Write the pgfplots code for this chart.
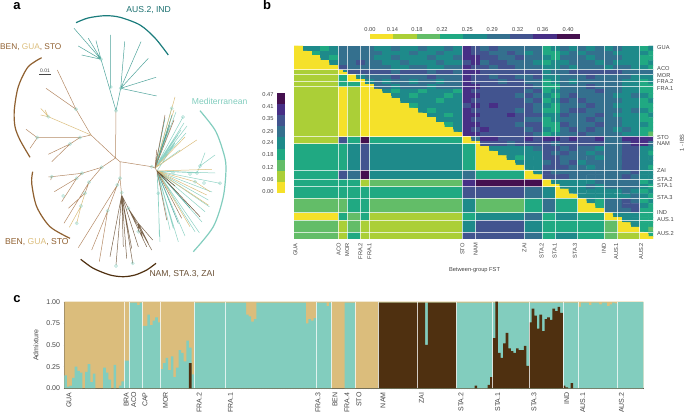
\documentclass[border=0pt]{standalone}
\usepackage{pgfplots}
\pgfplotsset{compat=1.18}
\usepackage{fontspec}
\setmainfont{Liberation Sans}
\definecolor{L0}{HTML}{F5E12A}
\definecolor{L1}{HTML}{ABCF37}
\definecolor{L2}{HTML}{63BD68}
\definecolor{L3}{HTML}{20A982}
\definecolor{L4}{HTML}{1E8A8A}
\definecolor{L5}{HTML}{34708E}
\definecolor{L6}{HTML}{42548F}
\definecolor{L7}{HTML}{472F86}
\definecolor{L8}{HTML}{45104F}
\definecolor{tanc}{HTML}{DBBD7C}
\definecolor{mintc}{HTML}{82CDBE}
\definecolor{darkc}{HTML}{4F3010}
\definecolor{brc}{HTML}{B48A66}
\definecolor{tealc}{HTML}{4FA39B}
\definecolor{txt}{HTML}{444444}
\newcommand\fsb{\fontsize{5.7}{6}\selectfont}
\newcommand\fsc{\fontsize{7}{7}\selectfont}
\newcommand\fst{\fontsize{8.6}{10}\selectfont}
% one block of the lower triangle: x0 x1 y0 y1 colour
\newcommand\blk[5]{\addplot[fill=#5,draw=none] coordinates {(#1,#3)(#2,#3)(#2,#4)(#1,#4)};}
\pgfplotsset{
  every tick label/.append style={text=txt},
  /pgf/number format/assume math mode=true,
  colormap={fst}{color=(L0) color=(L1) color=(L2) color=(L3) color=(L4) color=(L5) color=(L6) color=(L7) color=(L8)},
}
\begin{document}
\begin{tikzpicture}
\useasboundingbox (0pt,0pt) rectangle (685pt,414pt);

% panel a, in picture pixels
\begin{axis}[at={(0pt,0pt)},anchor=south west,scale only axis,width=685pt,height=414pt,
  xmin=0,xmax=685,ymin=0,ymax=414,y dir=reverse,hide axis,clip=false,unbounded coords=jump,
  line join=round]
% arcs
\addplot[smooth,color=L4!90!black,line width=1.2pt] coordinates {(76,22.7)(88,18)(105,15.7)(120,17.3)(140,25)(155,38)(168.3,55)};
\addplot[smooth,color=brown!75!black,line width=1.2pt] coordinates {(41.7,57.7)(28,67)(18.3,86.7)(14.3,110)(15,126.7)(20,140)(30,157.3)};
\addplot[smooth,color=brown!75!black,line width=1.2pt] coordinates {(32.7,171.7)(31.7,183.3)(36.7,206.7)(50,226.7)(70,238.3)};
\addplot[smooth,color=darkc,line width=1.2pt] coordinates {(80.7,259.3)(93.3,268.3)(110,275)(123.3,276.7)(135,275)(146.7,270)(156,263.3)};
\addplot[smooth,color=mintc,line width=1.2pt] coordinates {(200,110.7)(215,130)(222.7,150)(226,166.7)(223.3,196.7)(213.3,226.7)(193.3,251.7)};
% Mediterranean fans
\addplot[color=mintc,line width=.5pt,opacity=.9] coordinates {
 (155,168)(171.7,108)(155,168)(176,112)(155,168)(183,117)(155,168)(184,123)(155,168)(187,126)(155,168)(181,130)
 (155,168)(178,135)(155,168)(186,133)(155,168)(180,150)(155,168)(175,143)
 (157,171)(197,173)(200,166)(205,152.7)(200,166)(215,155)(nan,nan)
 (157,171)(215,173)(157,171)(220,183.3)(157,171)(209.3,206.7)(157,171)(199.3,232.7)(157,171)(178.3,241.7)
 (157,171)(160,241.7)(157,171)(158.3,193.3)(159.3,236.7)(nan,nan)(157,171)(170,230)(157,171)(173.3,228.3)(157,171)(195,231.7)
 (157,171)(205,211.7)(157,171)(208.3,200)(157,171)(212,192)(157,171)(202,222)(157,171)(185,236)};
\addplot[color=tanc,line width=.5pt] coordinates {
 (155,168)(175,97)(155,168)(174,110)(155,168)(196.7,140)(155,168)(185,137)(155,168)(168,130)
 (nan,nan)(157,171)(211.7,169.3)(157,171)(206.7,195)(nan,nan)(157,171)(195,181.7)(210,191.7)(nan,nan)
 (157,171)(208.3,205)(157,171)(190,226.7)};
\addplot[color=tealc,line width=.5pt] coordinates {(155,168)(165,118)(155,168)(172,115)(155,168)(170,125)(nan,nan)(157,171)(178.3,223.3)(157,171)(190,208)};
\addplot[color=brc!85!black,line width=.5pt] coordinates {(155,168)(165,115)(155,168)(156.7,150)(155,168)(174,120)(nan,nan)(157,171)(166.7,220)(157,171)(181.7,218.3)};
\addplot[color=darkc!85,line width=.5pt] coordinates {(157,171)(200,216.7)(157,171)(175,186)};
% AUS tree
\addplot[color=tealc,line width=.5pt] coordinates {
 (116,110.7)(101,59.3)(74,28.3)(101,59.3)(88.3,38.3)(101,59.3)(96,40.7)(101,59.3)(78.3,46)(101,59.3)(81.7,55)(nan,nan)
 (110.7,35)(110.7,88)(nan,nan)
 (116,110.7)(120.7,88.3)(124.7,41.7)(120.7,88.3)(141,41.7)(120.7,88.3)(148.3,58.3)(120.7,88.3)(156,77.3)(120.7,88.3)(156.7,96)};
% brown tree
\addplot[color=brc,line width=.5pt] coordinates {
 (116,110.7)(115.5,158)(120,161.7)(151.7,166.7)(155,168)(157,171)(nan,nan)
 (115.5,158)(91,135)(76,109.3)(57.3,70)(nan,nan)(76,109.3)(46,88.3)(nan,nan)
 (91,135)(80,137.5)(37.3,137.7)(26,129.3)(nan,nan)(37.3,137.7)(30,148.3)(nan,nan)
 (80,137.5)(70,144)(48.3,154.3)(nan,nan)(70,144)(51.7,161.7)(nan,nan)
 (115.5,158)(101.7,167.3)(82,173.3)(51.7,176.7)(48.3,177)(nan,nan)(51.7,176.7)(50.7,180)(nan,nan)
 (82,173.3)(76.7,178.3)(54.3,191.7)(nan,nan)(76.7,178.3)(61.7,201.7)(nan,nan)
 (101.7,167.3)(89,182.3)(85,193.3)(68.3,208.3)(nan,nan)(89,182.3)(64,223.3)(nan,nan)
 (120,161.7)(120,178.3)(117.3,185)(107.7,210.7)(91.7,250)(nan,nan)(107.7,210.7)(99.3,261.7)(nan,nan)
 (117.3,185)(78.3,247.7)(nan,nan)(120,178.3)(121.7,195)};
\addplot[color=tanc,line width=.5pt] coordinates {
 (91,135)(48.3,116.7)(40.7,108.3)(nan,nan)(48.3,116.7)(45,110)(nan,nan)(48.3,116.7)(40.7,115)(nan,nan)
 (85,193.3)(81,206)(69.3,227.3)(nan,nan)(81,206)(76.7,223.3)};
\addplot[color=darkc!75,line width=.5pt] coordinates {
 (121.7,195)(110,256.7)(121.7,195)(116,265)(121.7,195)(123.3,246.7)(121.7,195)(126.7,258.3)(121.7,195)(132.7,263.3)
 (121.7,195)(131.7,248.3)(121.7,195)(138.3,246.7)(121.7,195)(128.3,208.3)(151.7,250)(128.3,208.3)(146.7,246.7)
 (128.3,208.3)(138.3,223.3)(152.7,240)(138.3,223.3)(148.3,243.3)(138.3,223.3)(143.3,240)(138.3,223.3)(138.3,231.7)};
% node halos
\addplot[only marks,color=mintc,mark=*,mark size=1.8pt,opacity=.35,mark options={draw=none,fill=mintc}] coordinates {
 (116,110.7)(110.7,87)(101,59.3)(120.7,88.3)(76,109.3)(48.3,116.7)(37.3,137.5)(80,137.5)(70,144)
 (101.7,167.3)(82,173.3)(51.7,176.7)(76.7,178.3)(89,182.3)(85,193.3)(81,206)(76.7,223.3)(63.3,196)
 (120,178.3)(117.3,185)(107.7,210.7)(121.7,192.7)(128.3,208.3)(138.3,231.7)(151.7,166.7)(173,172.7)
 (190,174)(197,173)(200,166)(195,181.7)(204,183)(220,183.3)(158.3,193.3)(171.7,108.3)(183,117)(116,266)(132.7,263.3)};
% scale bar
\addplot[color=txt,line width=.4pt] coordinates {(39.3,74)(50.7,74)};
\node[font=\fontsize{5}{5}\selectfont,text=txt] at (axis cs:45,70.5) {0.01};
% tree labels
\node[font=\fst,text=L4!80!black] at (axis cs:148.7,10) {AUS.2, IND};
\node[font=\fontsize{8.3}{10}\selectfont,text=brown!75!black,anchor=west,inner sep=0] at (axis cs:0,47) {BEN, \textcolor{tanc}{GUA}, STO};
\node[font=\fst,text=mintc,anchor=west,inner sep=0] at (axis cs:191.7,101.7) {Mediterranean};
\node[font=\fst,text=brown!75!black,anchor=west,inner sep=0] at (axis cs:5,242) {BEN, \textcolor{tanc}{GUA}, STO};
\node[font=\fst,text=darkc!85,anchor=west,inner sep=0] at (axis cs:149.3,274) {NAM, STA.3, ZAI};
% panel letters and free labels
\node[font=\bfseries\fontsize{13}{13}\selectfont] at (axis cs:17,6) {a};
\node[font=\bfseries\fontsize{13}{13}\selectfont] at (axis cs:267,5) {b};
\node[font=\bfseries\fontsize{13}{13}\selectfont] at (axis cs:17,299) {c};
\node[font=\fsb,text=txt] at (axis cs:474.5,269.7) {Between-group FST};
\node[font=\fsb,text=txt,rotate=90] at (axis cs:682,143) {1 - IBS};
\end{axis}

% panel b heat map
\begin{axis}[at={(294pt,175pt)},anchor=south west,scale only axis,width=359pt,height=193pt,
  xmin=0,xmax=81,ymin=0,ymax=81,y dir=reverse,axis line style={draw=none},tick style={draw=none},
  major tick length=0pt,enlargelimits=false,point meta min=-0.5,point meta max=8.5,
  colormap access=piecewise constant,
  tick label style={font=\fsb},
  xtick={0.3,10.1,12,15,17,38,41,52,55.9,58.8,63.4,69.9,72.7,78.3},
  xticklabels={GUA,ACO,MOR,FRA.2,FRA.1,STO,NAM,ZAI,STA.2,STA.1,STA.3,IND,AUS.1,AUS.2},
  xticklabel style={rotate=90,anchor=east,inner sep=1pt,xshift=-3pt},
  ytick={0.7,9.4,12.2,15,17.9,38.3,41.1,52.3,55.9,58.7,63.5,70,72.7,78.6},
  yticklabels={GUA,ACO,MOR,FRA.2,FRA.1,STO,NAM,ZAI,STA.2,STA.1,STA.3,IND,AUS.1,AUS.2},
  yticklabel pos=right,yticklabel style={anchor=west,inner sep=0pt,xshift=4pt}]
\addplot[matrix plot*,mesh/cols=41,mesh/ordering=x varies,point meta=explicit]
 table[row sep=crcr,header=false,x expr={mod(\coordindex,41)*2+1},y expr={floor(\coordindex/41)*2+1},meta index=0] {
0\\4\\4\\3\\4\\5\\5\\5\\5\\4\\4\\5\\4\\4\\5\\4\\4\\5\\4\\7\\6\\5\\6\\5\\5\\5\\5\\5\\3\\4\\5\\4\\5\\4\\5\\4\\5\\4\\4\\3\\4\\
0\\0\\3\\4\\4\\5\\5\\5\\5\\5\\4\\4\\4\\5\\4\\4\\5\\4\\4\\7\\6\\6\\5\\5\\6\\5\\4\\5\\3\\3\\4\\5\\4\\5\\5\\5\\4\\4\\4\\4\\3\\
0\\0\\0\\4\\3\\5\\5\\5\\5\\4\\4\\5\\4\\4\\4\\5\\4\\4\\5\\7\\7\\6\\6\\5\\5\\6\\5\\5\\4\\3\\5\\5\\5\\4\\5\\5\\5\\4\\4\\3\\3\\
0\\0\\0\\0\\4\\5\\5\\6\\5\\5\\4\\4\\5\\4\\4\\4\\5\\4\\4\\6\\7\\5\\6\\6\\5\\5\\5\\4\\3\\4\\4\\5\\5\\5\\4\\5\\4\\4\\4\\3\\4\\
0\\0\\0\\0\\0\\6\\5\\5\\5\\5\\5\\4\\4\\5\\5\\4\\4\\5\\5\\7\\6\\6\\5\\6\\6\\5\\5\\5\\4\\4\\5\\4\\5\\5\\5\\4\\5\\5\\4\\4\\3\\
0\\0\\0\\0\\0\\4\\6\\6\\6\\6\\6\\5\\6\\6\\6\\5\\6\\6\\5\\7\\7\\6\\6\\6\\6\\6\\6\\6\\4\\5\\5\\6\\6\\6\\6\\6\\6\\5\\5\\5\\5\\
0\\0\\0\\0\\0\\0\\0\\4\\5\\5\\5\\6\\5\\5\\5\\6\\5\\5\\5\\7\\6\\6\\5\\6\\6\\5\\5\\6\\4\\4\\5\\5\\5\\6\\5\\5\\5\\5\\4\\4\\4\\
0\\0\\0\\0\\0\\0\\0\\0\\4\\5\\4\\5\\5\\4\\5\\5\\4\\5\\5\\7\\6\\6\\6\\5\\6\\6\\5\\5\\3\\4\\5\\4\\5\\5\\5\\5\\5\\4\\4\\3\\4\\
0\\0\\0\\0\\0\\0\\0\\0\\0\\5\\5\\4\\5\\5\\5\\4\\5\\5\\5\\7\\7\\6\\6\\6\\6\\6\\6\\5\\3\\3\\5\\5\\5\\6\\5\\5\\5\\4\\4\\3\\3\\
0\\0\\0\\0\\0\\0\\0\\0\\0\\0\\4\\3\\4\\4\\3\\4\\4\\4\\3\\7\\6\\6\\6\\6\\6\\6\\5\\6\\3\\4\\5\\5\\5\\5\\6\\5\\5\\4\\4\\3\\3\\
0\\0\\0\\0\\0\\0\\0\\0\\0\\0\\0\\4\\4\\3\\4\\4\\4\\3\\4\\7\\7\\6\\6\\6\\6\\5\\6\\5\\4\\3\\5\\6\\5\\5\\5\\5\\4\\4\\5\\4\\3\\
0\\0\\0\\0\\0\\0\\0\\0\\0\\0\\0\\0\\4\\4\\4\\4\\3\\4\\4\\7\\6\\6\\6\\6\\6\\6\\5\\6\\3\\4\\6\\5\\6\\5\\5\\5\\5\\4\\4\\3\\4\\
0\\0\\0\\0\\0\\0\\0\\0\\0\\0\\0\\0\\0\\3\\4\\4\\4\\4\\4\\6\\7\\6\\7\\6\\6\\6\\6\\5\\4\\3\\5\\5\\5\\6\\5\\5\\4\\4\\4\\3\\3\\
0\\0\\0\\0\\0\\0\\0\\0\\0\\0\\0\\0\\0\\0\\4\\3\\4\\4\\4\\7\\6\\6\\6\\6\\6\\5\\6\\5\\3\\3\\5\\6\\6\\5\\5\\5\\5\\4\\5\\4\\3\\
0\\0\\0\\0\\0\\0\\0\\0\\0\\0\\0\\0\\0\\0\\0\\4\\4\\3\\4\\7\\7\\6\\6\\6\\7\\6\\6\\6\\4\\4\\6\\5\\5\\5\\6\\5\\4\\4\\4\\3\\4\\
0\\0\\0\\0\\0\\0\\0\\0\\0\\0\\0\\0\\0\\0\\0\\0\\4\\4\\4\\7\\6\\6\\6\\6\\6\\6\\5\\5\\3\\4\\5\\5\\5\\6\\5\\5\\5\\4\\4\\3\\3\\
0\\0\\0\\0\\0\\0\\0\\0\\0\\0\\0\\0\\0\\0\\0\\0\\0\\3\\4\\7\\7\\6\\6\\6\\6\\5\\6\\6\\3\\3\\6\\5\\5\\5\\6\\5\\5\\4\\4\\4\\3\\
0\\0\\0\\0\\0\\0\\0\\0\\0\\0\\0\\0\\0\\0\\0\\0\\0\\0\\4\\7\\6\\7\\6\\6\\6\\6\\5\\6\\4\\3\\5\\6\\5\\6\\5\\5\\4\\5\\4\\3\\3\\
0\\0\\0\\0\\0\\0\\0\\0\\0\\0\\0\\0\\0\\0\\0\\0\\0\\0\\0\\7\\7\\6\\6\\6\\6\\6\\6\\5\\3\\4\\5\\5\\6\\5\\5\\5\\5\\4\\4\\3\\2\\
0\\0\\0\\0\\0\\0\\0\\0\\0\\0\\0\\0\\0\\0\\0\\0\\0\\0\\0\\0\\5\\7\\7\\6\\6\\6\\7\\6\\7\\7\\6\\7\\6\\6\\7\\5\\5\\7\\7\\7\\7\\
0\\0\\0\\0\\0\\0\\0\\0\\0\\0\\0\\0\\0\\0\\0\\0\\0\\0\\0\\0\\0\\6\\6\\6\\5\\6\\6\\6\\6\\5\\6\\6\\6\\6\\6\\5\\5\\6\\7\\7\\5\\
0\\0\\0\\0\\0\\0\\0\\0\\0\\0\\0\\0\\0\\0\\0\\0\\0\\0\\0\\0\\0\\0\\4\\4\\4\\4\\4\\5\\6\\6\\5\\6\\5\\5\\4\\5\\5\\6\\6\\4\\4\\
0\\0\\0\\0\\0\\0\\0\\0\\0\\0\\0\\0\\0\\0\\0\\0\\0\\0\\0\\0\\0\\0\\0\\4\\4\\4\\4\\4\\6\\5\\6\\5\\5\\4\\5\\5\\5\\6\\6\\4\\3\\
0\\0\\0\\0\\0\\0\\0\\0\\0\\0\\0\\0\\0\\0\\0\\0\\0\\0\\0\\0\\0\\0\\0\\0\\4\\3\\4\\4\\6\\6\\5\\5\\5\\5\\4\\5\\5\\6\\6\\4\\4\\
0\\0\\0\\0\\0\\0\\0\\0\\0\\0\\0\\0\\0\\0\\0\\0\\0\\0\\0\\0\\0\\0\\0\\0\\0\\4\\4\\4\\5\\6\\5\\6\\4\\5\\5\\5\\5\\6\\6\\4\\4\\
0\\0\\0\\0\\0\\0\\0\\0\\0\\0\\0\\0\\0\\0\\0\\0\\0\\0\\0\\0\\0\\0\\0\\0\\0\\0\\4\\4\\6\\6\\6\\5\\5\\4\\5\\5\\5\\6\\6\\4\\3\\
0\\0\\0\\0\\0\\0\\0\\0\\0\\0\\0\\0\\0\\0\\0\\0\\0\\0\\0\\0\\0\\0\\0\\0\\0\\0\\0\\4\\6\\5\\5\\5\\5\\5\\5\\5\\5\\5\\6\\4\\4\\
0\\0\\0\\0\\0\\0\\0\\0\\0\\0\\0\\0\\0\\0\\0\\0\\0\\0\\0\\0\\0\\0\\0\\0\\0\\0\\0\\0\\6\\6\\6\\5\\5\\5\\5\\5\\5\\6\\5\\4\\4\\
0\\0\\0\\0\\0\\0\\0\\0\\0\\0\\0\\0\\0\\0\\0\\0\\0\\0\\0\\0\\0\\0\\0\\0\\0\\0\\0\\0\\0\\4\\4\\4\\4\\4\\5\\5\\5\\5\\5\\3\\4\\
0\\0\\0\\0\\0\\0\\0\\0\\0\\0\\0\\0\\0\\0\\0\\0\\0\\0\\0\\0\\0\\0\\0\\0\\0\\0\\0\\0\\0\\0\\4\\4\\4\\5\\4\\5\\5\\5\\5\\4\\3\\
0\\0\\0\\0\\0\\0\\0\\0\\0\\0\\0\\0\\0\\0\\0\\0\\0\\0\\0\\0\\0\\0\\0\\0\\0\\0\\0\\0\\0\\0\\0\\4\\4\\4\\4\\4\\4\\5\\4\\3\\4\\
0\\0\\0\\0\\0\\0\\0\\0\\0\\0\\0\\0\\0\\0\\0\\0\\0\\0\\0\\0\\0\\0\\0\\0\\0\\0\\0\\0\\0\\0\\0\\0\\4\\4\\4\\4\\4\\4\\5\\4\\3\\
0\\0\\0\\0\\0\\0\\0\\0\\0\\0\\0\\0\\0\\0\\0\\0\\0\\0\\0\\0\\0\\0\\0\\0\\0\\0\\0\\0\\0\\0\\0\\0\\0\\4\\3\\5\\5\\6\\5\\3\\4\\
0\\0\\0\\0\\0\\0\\0\\0\\0\\0\\0\\0\\0\\0\\0\\0\\0\\0\\0\\0\\0\\0\\0\\0\\0\\0\\0\\0\\0\\0\\0\\0\\0\\0\\3\\5\\5\\6\\6\\4\\3\\
0\\0\\0\\0\\0\\0\\0\\0\\0\\0\\0\\0\\0\\0\\0\\0\\0\\0\\0\\0\\0\\0\\0\\0\\0\\0\\0\\0\\0\\0\\0\\0\\0\\0\\0\\5\\5\\5\\6\\3\\3\\
0\\0\\0\\0\\0\\0\\0\\0\\0\\0\\0\\0\\0\\0\\0\\0\\0\\0\\0\\0\\0\\0\\0\\0\\0\\0\\0\\0\\0\\0\\0\\0\\0\\0\\0\\0\\4\\4\\4\\3\\3\\
0\\0\\0\\0\\0\\0\\0\\0\\0\\0\\0\\0\\0\\0\\0\\0\\0\\0\\0\\0\\0\\0\\0\\0\\0\\0\\0\\0\\0\\0\\0\\0\\0\\0\\0\\0\\0\\4\\4\\3\\3\\
0\\0\\0\\0\\0\\0\\0\\0\\0\\0\\0\\0\\0\\0\\0\\0\\0\\0\\0\\0\\0\\0\\0\\0\\0\\0\\0\\0\\0\\0\\0\\0\\0\\0\\0\\0\\0\\0\\4\\3\\3\\
0\\0\\0\\0\\0\\0\\0\\0\\0\\0\\0\\0\\0\\0\\0\\0\\0\\0\\0\\0\\0\\0\\0\\0\\0\\0\\0\\0\\0\\0\\0\\0\\0\\0\\0\\0\\0\\0\\0\\3\\2\\
0\\0\\0\\0\\0\\0\\0\\0\\0\\0\\0\\0\\0\\0\\0\\0\\0\\0\\0\\0\\0\\0\\0\\0\\0\\0\\0\\0\\0\\0\\0\\0\\0\\0\\0\\0\\0\\0\\0\\0\\3\\
0\\0\\0\\0\\0\\0\\0\\0\\0\\0\\0\\0\\0\\0\\0\\0\\0\\0\\0\\0\\0\\0\\0\\0\\0\\0\\0\\0\\0\\0\\0\\0\\0\\0\\0\\0\\0\\0\\0\\0\\0\\
};
% lower triangle: yellow staircase, then the between-group blocks over it
\addplot[const plot,fill=L0,draw=none] coordinates {(0,0)(1,1)(2,2)(3,3)(4,4)(5,5)(6,6)(7,7)(8,8)(9,9)(10,10)(11,11)(12,12)(13,13)(14,14)(15,15)(16,16)(17,17)(18,18)(19,19)(20,20)(21,21)(22,22)(23,23)(24,24)(25,25)(26,26)(27,27)(28,28)(29,29)(30,30)(31,31)(32,32)(33,33)(34,34)(35,35)(36,36)(37,37)(38,38)(39,39)(40,40)(41,41)(42,42)(43,43)(44,44)(45,45)(46,46)(47,47)(48,48)(49,49)(50,50)(51,51)(52,52)(53,53)(54,54)(55,55)(56,56)(57,57)(58,58)(59,59)(60,60)(61,61)(62,62)(63,63)(64,64)(65,65)(66,66)(67,67)(68,68)(69,69)(70,70)(71,71)(72,72)(73,73)(74,74)(75,75)(76,76)(77,77)(78,78)(79,79)(80,80)(81,81)(0,81)};
\blk{0}{10}{10}{12}{L1}
\blk{0}{10}{12}{15}{L1}\blk{10}{12}{12}{15}{L3}
\blk{0}{10}{15}{17}{L1}\blk{10}{15}{15}{17}{L3}
\blk{0}{10}{17}{38}{L1}\blk{10}{12}{17}{38}{L0}\blk{12}{15}{17}{38}{L1}\blk{15}{17}{17}{38}{L0}
\blk{0}{10}{38}{41}{L1}\blk{10}{12}{38}{41}{L6}\blk{12}{15}{38}{41}{L3}\blk{15}{17}{38}{41}{L8}\blk{17}{38}{38}{41}{L3}
\blk{0}{12}{41}{52}{L3}\blk{12}{15}{41}{52}{L4}\blk{15}{17}{41}{52}{L6}\blk{17}{38}{41}{52}{L4}\blk{38}{41}{41}{52}{L3}
\blk{0}{10}{52}{56}{L3}\blk{10}{12}{52}{56}{L6}\blk{12}{15}{52}{56}{L5}\blk{15}{17}{52}{56}{L8}\blk{17}{38}{52}{56}{L4}\blk{38}{41}{52}{56}{L5}\blk{41}{52}{52}{56}{L3}
\blk{0}{15}{56}{59}{L3}\blk{15}{17}{56}{59}{L1}\blk{17}{38}{56}{59}{L2}\blk{38}{41}{56}{59}{L7}\blk{41}{56}{56}{59}{L8}
\blk{0}{38}{59}{64}{L3}\blk{38}{52}{59}{64}{L6}\blk{52}{56}{59}{64}{L5}\blk{56}{59}{59}{64}{L4}
\blk{0}{12}{64}{70}{L2}\blk{12}{17}{64}{70}{L3}\blk{17}{38}{64}{70}{L2}\blk{38}{41}{64}{70}{L4}\blk{41}{52}{64}{70}{L2}\blk{52}{56}{64}{70}{L3}\blk{56}{59}{64}{70}{L5}\blk{59}{64}{64}{70}{L3}
\blk{0}{10}{70}{73}{L0}\blk{10}{12}{70}{73}{L3}\blk{12}{15}{70}{73}{L2}\blk{15}{17}{70}{73}{L3}\blk{17}{38}{70}{73}{L1}\blk{38}{41}{70}{73}{L3}\blk{41}{52}{70}{73}{L4}\blk{52}{56}{70}{73}{L5}\blk{56}{59}{70}{73}{L3}\blk{59}{64}{70}{73}{L4}\blk{64}{70}{70}{73}{L3}
\blk{0}{10}{73}{78}{L2}\blk{10}{12}{73}{78}{L1}\blk{12}{15}{73}{78}{L2}\blk{15}{38}{73}{78}{L1}\blk{38}{41}{73}{78}{L4}\blk{41}{52}{73}{78}{L6}\blk{52}{56}{73}{78}{L4}\blk{56}{70}{73}{78}{L3}\blk{70}{73}{73}{78}{L2}
\blk{0}{10}{78}{81}{L2}\blk{10}{12}{78}{81}{L1}\blk{12}{15}{78}{81}{L3}\blk{15}{38}{78}{81}{L1}\blk{38}{52}{78}{81}{L6}\blk{52}{56}{78}{81}{L5}\blk{56}{59}{78}{81}{L3}\blk{59}{64}{78}{81}{L4}\blk{64}{70}{78}{81}{L3}\blk{70}{73}{78}{81}{L2}\blk{73}{78}{78}{81}{L1}
% group separators
\addplot[ycomb,white,opacity=.7,line width=.7pt] coordinates {(10,81)(12,81)(15,81)(17,81)(38,81)(41,81)(52,81)(56,81)(59,81)(64,81)(70,81)(73,81)(78,81)};
\addplot[xcomb,white,opacity=.7,line width=.7pt] coordinates {(81,10)(81,12)(81,15)(81,17)(81,38)(81,41)(81,52)(81,56)(81,59)(81,64)(81,70)(81,73)(81,78)};
\end{axis}

% top colour key
\begin{axis}[at={(370pt,375pt)},anchor=south west,scale only axis,width=210pt,height=5pt,
  xmin=0,xmax=9,ymin=0,ymax=1,axis line style={draw=none},tick style={draw=none},major tick length=0pt,
  ytick=\empty,xticklabel pos=right,tick label style={font=\fsb},xticklabel style={yshift=-1.5pt},
  xtick={0,0.96,2.01,3.09,4.17,5.24,6.33,7.4,8.49},
  xticklabels={0.00,0.14,0.18,0.22,0.25,0.29,0.32,0.36,0.40}]
\blk{0}{1}{0}{1}{L0}\blk{1}{2}{0}{1}{L1}\blk{2}{3}{0}{1}{L2}\blk{3}{4}{0}{1}{L3}\blk{4}{5}{0}{1}{L4}\blk{5}{6}{0}{1}{L5}\blk{6}{7}{0}{1}{L6}\blk{7}{8}{0}{1}{L7}\blk{8}{9}{0}{1}{L8}
\end{axis}

% left colour key
\begin{axis}[at={(277pt,220.7pt)},anchor=south west,scale only axis,width=8pt,height=100.6pt,
  xmin=0,xmax=1,ymin=0,ymax=9,y dir=reverse,axis line style={draw=none},tick style={draw=none},major tick length=0pt,
  xtick=\empty,tick label style={font=\fsb},
  ytick={0.18,1.28,2.35,3.43,4.5,5.57,6.67,7.78,8.82},
  yticklabels={0.47,0.41,0.35,0.29,0.24,0.18,0.12,0.06,0.00}]
\blk{0}{1}{0}{1}{L8}\blk{0}{1}{1}{2}{L7}\blk{0}{1}{2}{3}{L6}\blk{0}{1}{3}{4}{L5}\blk{0}{1}{4}{5}{L4}\blk{0}{1}{5}{6}{L3}\blk{0}{1}{6}{7}{L2}\blk{0}{1}{7}{8}{L1}\blk{0}{1}{8}{9}{L0}
\end{axis}

% panel c
\begin{axis}[at={(64.3pt,25.7pt)},anchor=south west,scale only axis,width=579pt,height=86.6pt,
  xmin=0,xmax=223,ymin=0,ymax=1,clip=true,
  axis lines=left,axis line style={-,draw=txt,line width=.6pt},
  tick style={draw=txt,line width=.3pt},major tick length=1.5pt,
  tick label style={font=\fsc},ylabel=Admixture,ylabel style={font=\fsc,text=txt,yshift=1pt},
  ytick={0,0.25,0.5,0.75,1},yticklabel style={/pgf/number format/fixed,/pgf/number format/fixed zerofill,/pgf/number format/precision=2},
  xtick distance=1,xticklabels={},
  extra x ticks={1.8,23.8,26.7,31.1,39,51.9,64,97.7,104.2,108.9,113.5,122.7,137.6,152.8,166.9,180.9,193.5,199.7,214.6},
  extra x tick labels={GUA,BRA,ACO,CAP,MOR,FRA.2,FRA.1,FRA.3,BEN,FRA.4,STO,NAM,ZAI,STA.2,STA.1,STA.3,IND,AUS.1,AUS.2},
  extra x tick style={major tick length=0pt,xticklabel style={rotate=90,anchor=east,inner sep=0pt,xshift=-4pt}}]
\addplot[const plot,fill=tanc,draw=none] coordinates {(0,1)(223,1)} \closedcycle;
\addplot[const plot,fill=mintc,draw=none] coordinates {
 (0,.15)(1,.02)(2,.03)(3,.12)(4,.25)(5,.20)(6,.18)(7,0)(8,.19)(9,.28)(10,.07)(11,.17)(12,0)(15,.24)(16,.18)(17,.10)(18,0)(19,.27)(20,0)(21,.03)(22,.08)
 (23,.32)(25,.99)(28,.96)(29,.99)
 (30,.72)(32,.85)(33,.73)(34,.78)(35,.82)(36,.76)
 (37,.22)(38,.29)(39,.35)(40,.21)(41,.37)(42,.13)(43,.24)(44,.44)(45,.41)(46,.31)(47,.55)(48,.47)(49,.16)
 (50,.99)(70,.85)(71,.83)(72,.77)(73,.80)(74,.99)(93,.75)(94,.80)(95,.78)(96,.81)(97,.99)(101,.95)(102,.99)(103,0)(108,.99)(112,0)
 (121,.99)(198,.94)(199,.99)(202,.96)(203,.99)(206,.97)(207,.99)(209,.95)(210,.97)(211,.99)(212,.98)(213,.995)(223,.995)} \closedcycle;
\addplot[const plot,fill=darkc,draw=none] coordinates {
 (0,0)(48,.29)(49,0)(121,.99)(139,.5)(140,.99)(151,0)(158,.03)(159,0)(163,.04)(164,.13)
 (165,.58)(166,1)(167,.41)(168,.35)(169,.52)(170,.64)(171,.46)(172,.43)(173,.41)(174,.46)(175,.44)(176,.44)(177,.49)(178,.26)
 (179,.76)(180,.92)(181,.84)(182,.69)(183,.85)(184,.66)(185,.80)(186,.82)(187,.79)(188,.92)(189,.89)(190,.94)(191,.87)
 (192,.03)(193,.01)(194,0)(195,.06)(196,0)(223,0)} \closedcycle;
\addplot[ycomb,white,opacity=.75,line width=.6pt] coordinates {(23.3,1)(25,1)(30.2,1)(37.1,1)(50,1)(62,1)(97.2,1)(103,1)(112,1)(121,1)(136,1)(151,1)(165,1)(179,1)(192,1)(198,1)(213,1)};
\end{axis}
\end{tikzpicture}
\end{document}
